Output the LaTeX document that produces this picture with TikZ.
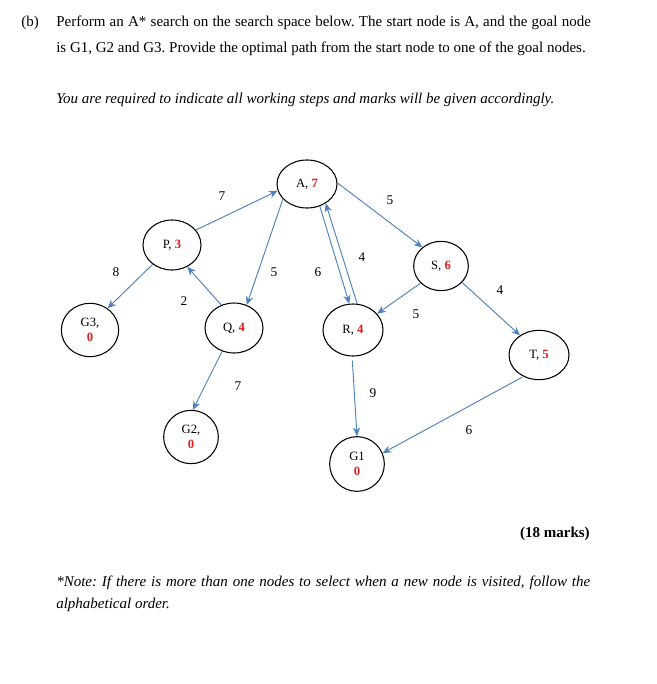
\documentclass[tikz,border=0pt]{standalone}
\usepackage{fontspec}
\setmainfont{Liberation Serif}
\usetikzlibrary{shapes.geometric,arrows.meta}
\definecolor{edgeblue}{RGB}{79,129,189}
\definecolor{hred}{RGB}{220,30,30}
\newcommand\hval[1]{\textcolor{hred}{\textbf{#1}}}
\frenchspacing
\begin{document}
\begin{tikzpicture}[x=0.75pt,y=-0.75pt,
 state/.style={draw,ellipse,inner sep=0pt,line width=0.8pt,font=\fontsize{9.5}{11.5}\selectfont,align=center},
 edge/.style={draw=edgeblue,line width=0.7pt,-{Stealth[length=6.5pt,width=5.5pt]}},
 wlabel/.style={font=\fontsize{10}{12}\selectfont,inner sep=0pt},
 para/.style={anchor=base west,inner sep=0pt,font=\fontsize{11.25}{13}\selectfont}]
\useasboundingbox (0,0) rectangle (656,684);
\fill[white] (0,0) rectangle (656,684);

% text
\node[para] (tb) at (21,27) {(b)};
\node[para] (t1) at (56,27) {\makebox[401pt][s]{Perform an A* search on the search space below. The start node is A, and the goal node}};
\node[para] (t2) at (56,53) {is G1, G2 and G3. Provide the optimal path from the start node to one of the goal nodes.};
\node[para] (t3) at (56,104) {\itshape You are required to indicate all working steps and marks will be given accordingly.};
\node[para,anchor=base east] (mk) at (590,537) {\bfseries (18 marks)};
\node[para] (n1) at (56,586) {\itshape\makebox[400.5pt][s]{*Note: If there is more than one nodes to select when a new node is visited, follow the}};
\node[para] (n2) at (56,608) {\itshape alphabetical order.};

% nodes
\node[state,minimum width=45pt,minimum height=36pt] (A) at (307,184) {A, \hval{7}};
\node[state,minimum width=43.5pt,minimum height=37.5pt] (P) at (172,245) {P, \hval{3}};
\node[state,minimum width=43.5pt,minimum height=37.5pt] (Q) at (234,328) {Q, \hval{4}};
\node[state,minimum width=45pt,minimum height=39pt] (R) at (353,330) {R, \hval{4}};
\node[state,minimum width=41pt,minimum height=37pt] (S) at (441,266) {S, \hval{6}};
\node[state,minimum width=45pt,minimum height=37pt] (T) at (539,355) {T, \hval{5}};
\node[state,minimum width=43pt,minimum height=40pt] (G3) at (90,330) {G3,\\\hval{0}};
\node[state,minimum width=41pt,minimum height=40pt] (G2) at (191,437) {G2,\\\hval{0}};
\node[state,minimum width=41pt,minimum height=41pt] (G1) at (357,464) {G1\\\hval{0}};

% edges
\draw[edge] (P.32) -- (A.193);
\draw[edge] (A.-148) -- (Q.61);
\draw[edge] (A.-60) -- (R.98);
\draw[edge] (R.81) -- (A.-46);
\draw[edge] (A.2) -- (S.135);
\draw[edge] (S.220) -- (R.34);
\draw[edge] (S.-38) -- (T.134);
\draw[edge] (P.225) -- (G3.51);
\draw[edge] (Q.119) -- (P.-55);
\draw[edge] (Q.-117) -- (G2.86);
\draw[edge,shorten <=3pt] (R.-92) -- (G1.90);
\draw[edge,shorten <=1pt] (T.-126) -- (G1.23);

% edge labels
\node[wlabel] (lAP) at (222,196) {7};
\node[wlabel] (lAQ) at (274,272) {5};
\node[wlabel] (lAR) at (318,272) {6};
\node[wlabel] (lRA) at (362,257) {4};
\node[wlabel] (lAS) at (390,200) {5};
\node[wlabel] (lSR) at (416,314) {5};
\node[wlabel] (lST) at (500,290) {4};
\node[wlabel] (lPG) at (116,272) {8};
\node[wlabel] (lQP) at (184,301) {2};
\node[wlabel] (lQG) at (238,386) {7};
\node[wlabel] (lRG) at (373,393) {9};
\node[wlabel] (lTG) at (469,430) {6};
\end{tikzpicture}
\end{document}
